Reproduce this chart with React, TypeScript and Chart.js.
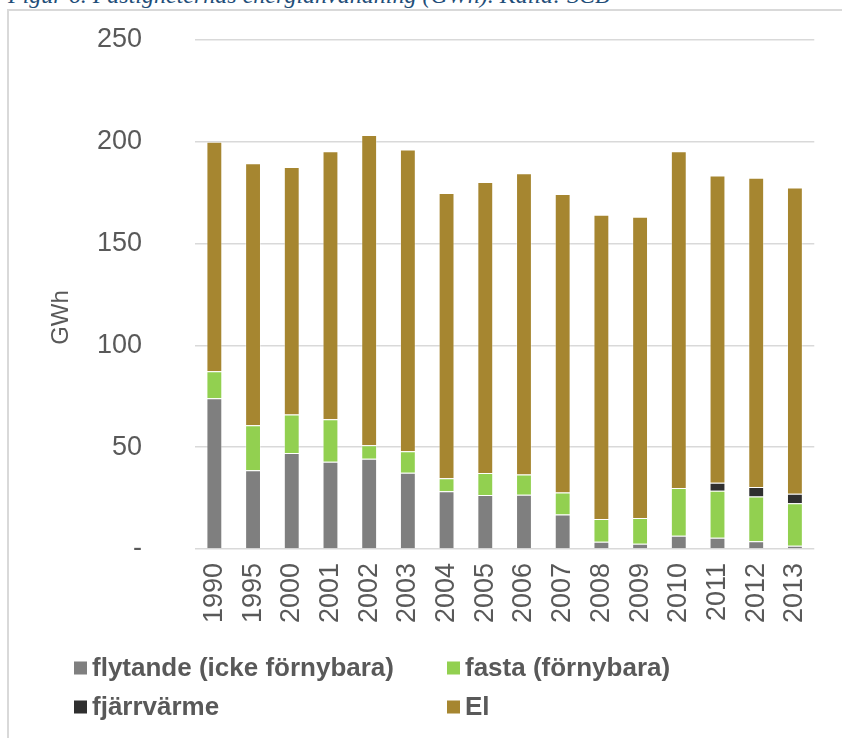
import React, { useEffect, useRef } from "react";
import { Chart, registerables } from "chart.js";

Chart.register(...registerables);

const years = ["1990", "1995", "2000", "2001", "2002", "2003", "2004", "2005", "2006", "2007", "2008", "2009", "2010", "2011", "2012", "2013"];
const flytande = [74.0, 38.7, 47.2, 42.8, 44.3, 37.4, 28.4, 26.5, 26.6, 17.0, 3.6, 2.6, 6.5, 5.5, 3.8, 1.6];
const fasta = [13.3, 22.1, 18.8, 20.9, 6.7, 10.6, 6.4, 10.8, 10.0, 10.8, 11.1, 12.6, 23.4, 23.1, 22.0, 20.9];
const fjarrvarme = [0, 0, 0, 0, 0, 0, 0, 0, 0, 0, 0, 0, 0, 3.9, 4.6, 4.6];
const el = [112.7, 128.7, 121.6, 131.7, 152.4, 148.2, 140.1, 142.9, 148.0, 146.6, 149.5, 148.0, 165.5, 151.0, 152.0, 150.4];
const yTickValues = [0, 50, 100, 150, 200, 250];
const seriesNames = ["flytande (icke förnybara)", "fasta (förnybara)", "fjärrvärme", "El"];
const yAxisTitle = "GWh";
const titleText = "Figur 6. Fastigheternas energianvändning (GWh). Källa: SCB";

const FONT = "'Liberation Sans', Arial, sans-serif";
const TEXT = "#595959";

const legendPlugin = {
  id: "twoColLegend",
  afterDraw(chart: any) {
    const ctx = chart.ctx;
    const ds = chart.data.datasets;
    const cols = [74, 447];
    const rows = [668, 707];
    ctx.save();
    ctx.font = `bold 26px ${FONT}`;
    ctx.textBaseline = "middle";
    ctx.textAlign = "left";
    ds.forEach((d: any, i: number) => {
      const x = cols[i % 2];
      const y = rows[Math.floor(i / 2)];
      ctx.fillStyle = d.backgroundColor;
      ctx.fillRect(x, y - 6.5, 13, 13);
      ctx.fillStyle = TEXT;
      ctx.fillText(d.label, x + 18, y + 1);
    });
    ctx.restore();
  },
};

const axisTitlePlugin = {
  id: "yAxisTitle",
  afterDraw(chart: any) {
    const ctx = chart.ctx;
    const area = chart.chartArea;
    ctx.save();
    ctx.translate(61, (area.top + area.bottom) / 2 + 23);
    ctx.rotate(-Math.PI / 2);
    ctx.font = `24px ${FONT}`;
    ctx.fillStyle = TEXT;
    ctx.textAlign = "center";
    ctx.textBaseline = "middle";
    ctx.fillText(yAxisTitle, 0, 0);
    ctx.restore();
  },
};

export default function App() {
  const ref = useRef<HTMLCanvasElement | null>(null);

  useEffect(() => {
    if (!ref.current) return;
    const border = "rgba(255,255,255,0.35)";
    const chart = new Chart(ref.current, {
      type: "bar",
      data: {
        labels: years,
        datasets: [
          { label: seriesNames[0], data: flytande, backgroundColor: "#7F7F7F", borderColor: border, borderWidth: 1 },
          { label: seriesNames[1], data: fasta, backgroundColor: "#92D050", borderColor: border, borderWidth: 1 },
          { label: seriesNames[2], data: fjarrvarme, backgroundColor: "#2F2F2F", borderColor: border, borderWidth: 1 },
          { label: seriesNames[3], data: el, backgroundColor: "#A68630", borderColor: border, borderWidth: 1 },
        ],
      },
      options: {
        responsive: false,
        animation: false,
        devicePixelRatio: 1,
        layout: { padding: { left: 43, right: 22, top: 40, bottom: 109 } },
        datasets: { bar: { barPercentage: 0.41, categoryPercentage: 1 } },
        plugins: {
          legend: { display: false },
          tooltip: { enabled: false },
          title: { display: false },
        },
        scales: {
          x: {
            stacked: true,
            grid: { display: false, drawTicks: false },
            border: { display: false },
            ticks: {
              minRotation: 90,
              maxRotation: 90,
              autoSkip: false,
              padding: 14,
              color: TEXT,
              font: { family: FONT, size: 27 },
            },
            afterFit(scale: any) {
              scale.height = 80;
            },
          },
          y: {
            stacked: true,
            min: 0,
            max: 250,
            afterBuildTicks(scale: any) {
              scale.ticks = yTickValues.map((v) => ({ value: v }));
            },
            grid: { color: "#D9D9D9", lineWidth: 1.5, drawTicks: true, tickLength: 47, tickColor: "rgba(0,0,0,0)" },
            border: { display: false },
            ticks: {
              padding: 6,
              color: TEXT,
              font: { family: FONT, size: 27 },
              callback: (v: any) => (Number(v) === 0 ? "-" : String(v)),
            },
            title: { display: false },
            afterFit(scale: any) {
              scale.width = 152;
            },
          },
        },
      },
      plugins: [legendPlugin, axisTitlePlugin],
    });
    return () => chart.destroy();
  }, []);

  return (
    <div style={{ position: "absolute", left: 0, top: 0, width: 842, height: 738, overflow: "hidden", background: "#fff" }}>
      <div
        style={{
          position: "absolute",
          left: 8,
          top: -18,
          whiteSpace: "nowrap",
          fontFamily: "'Liberation Serif', 'DejaVu Serif', serif",
          fontStyle: "italic",
          fontSize: 24,
          lineHeight: "26px",
          color: "#1F4E79",
        }}
      >
        {titleText}
      </div>
      <div
        style={{
          position: "absolute",
          left: 7,
          top: 9,
          width: 900,
          height: 800,
          borderTop: "2px solid #D9D9D9",
          borderLeft: "2px solid #D9D9D9",
        }}
      />
      <canvas ref={ref} width={842} height={738} style={{ position: "absolute", left: 0, top: 0 }} />
    </div>
  );
}
